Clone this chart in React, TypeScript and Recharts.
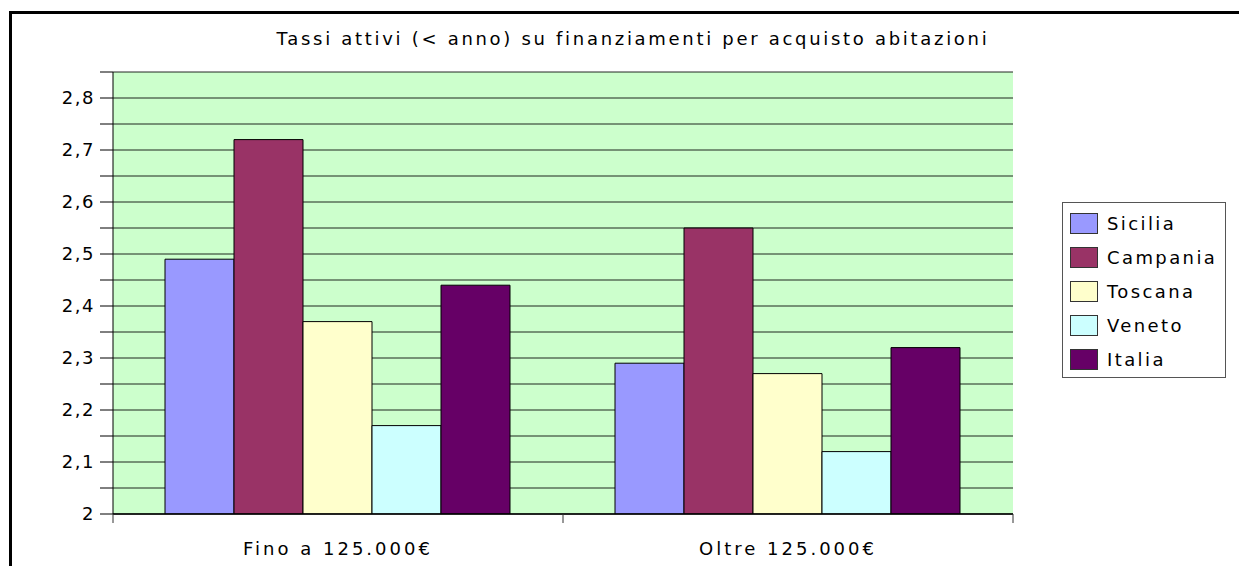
import React from 'react';
import { BarChart, Bar, XAxis, YAxis, CartesianGrid } from 'recharts';

const categories = ['Fino a 125.000€', 'Oltre 125.000€'];
const sicilia = [2.49, 2.29];
const campania = [2.72, 2.55];
const toscana = [2.37, 2.27];
const veneto = [2.17, 2.12];
const italia = [2.44, 2.32];
const yTicks = [2, 2.05, 2.1, 2.15, 2.2, 2.25, 2.3, 2.35, 2.4, 2.45, 2.5, 2.55, 2.6, 2.65, 2.7, 2.75, 2.8, 2.85];

const series = [
  { key: 'Sicilia', values: sicilia, color: '#9999FF' },
  { key: 'Campania', values: campania, color: '#993366' },
  { key: 'Toscana', values: toscana, color: '#FFFFCC' },
  { key: 'Veneto', values: veneto, color: '#CCFFFF' },
  { key: 'Italia', values: italia, color: '#660066' },
];

const data = categories.map((name, i) => {
  const row: any = { name };
  series.forEach(s => { row[s.key] = s.values[i]; });
  return row;
});

const FONT = "'Comic Sans MS', 'DejaVu Sans', sans-serif";
const X_MARGIN = 28;

const fmtY = (v: number) => {
  const r = Math.round(v * 100);
  if (r % 10 !== 0 || r > 280) return '';
  return (r / 100).toString().replace('.', ',');
};

// category label + tick marks on the category boundaries (Excel style)
const CatTick = (props: any) => {
  const { x, y, payload, index, visibleTicksCount } = props;
  const off = payload.offset || 0;
  const axisY = y - X_MARGIN;
  const isLast = index === visibleTicksCount - 1;
  return (
    <g>
      <line x1={x - off} x2={x - off} y1={axisY} y2={axisY + 9} stroke="#333" />
      {isLast && <line x1={x + off} x2={x + off} y1={axisY} y2={axisY + 9} stroke="#333" />}
      <text x={x} y={y} dy="0.71em" textAnchor="middle" fill="#000" fontSize={18} letterSpacing={3} fontFamily={FONT}>
        {payload.value}
      </text>
    </g>
  );
};

const LegendBox = () => (
  <div style={{
    position: 'absolute', left: 1062, top: 202,
    border: '1px solid #555', background: '#fff', width: 164, height: 176,
    boxSizing: 'border-box', padding: '3px 0 0 7px', fontFamily: FONT, fontSize: 18,
    letterSpacing: 2.4, color: '#000'
  }}>
    {series.map(s => (
      <div key={s.key} style={{ display: 'flex', alignItems: 'center', height: 34 }}>
        <div style={{ width: 26, height: 19, background: s.color, border: '1px solid #333', marginRight: 9 }} />
        <span>{s.key}</span>
      </div>
    ))}
  </div>
);

export default function App() {
  return (
    <div style={{ position: 'fixed', left: 0, top: 0, width: 1239, height: 566, overflow: 'hidden', background: '#fff' }}>
      <div style={{
        position: 'absolute', left: 9, top: 11, width: 1300, height: 700,
        borderTop: '3px solid #000', borderLeft: '3px solid #000'
      }} />
      <div style={{
        position: 'absolute', left: 0, width: 1266, top: 28, textAlign: 'center',
        fontFamily: FONT, fontSize: 18, letterSpacing: 2.7, color: '#000'
      }}>
        Tassi attivi (&lt; anno) su finanziamenti per acquisto abitazioni
      </div>
      <div style={{ position: 'absolute', left: 0, top: 0 }}>
        <BarChart
          width={1239}
          height={566}
          data={data}
          margin={{ top: 72, right: 226, bottom: 0, left: 0 }}
          barCategoryGap={52}
          barGap={0}
          style={{ fontFamily: FONT }}
        >
          <CartesianGrid vertical={false} fill="#CCFFCC" fillOpacity={1} stroke="#000" strokeOpacity={0.85} />
          <XAxis
            dataKey="name"
            height={52}
            tickLine={false}
            tickSize={0}
            tickMargin={X_MARGIN}
            axisLine={{ stroke: '#000', strokeWidth: 1.5 }}
            tick={<CatTick />}
            interval={0}
          />
          <YAxis
            width={113}
            domain={[2, 2.85]}
            ticks={yTicks}
            interval={0}
            tickFormatter={fmtY}
            tickSize={13}
            tickMargin={5}
            axisLine={{ stroke: '#000' }}
            tickLine={{ stroke: '#000' }}
            tick={{ fill: '#000', fontSize: 18, letterSpacing: 1.5 }}
            allowDataOverflow
          />
          <YAxis
            yAxisId="right"
            orientation="right"
            width={0}
            tick={false}
            tickLine={false}
            axisLine={{ stroke: '#808080' }}
          />
          {series.map(s => (
            <Bar key={s.key} dataKey={s.key} fill={s.color} stroke="#000" strokeWidth={1} isAnimationActive={false} />
          ))}
        </BarChart>
      </div>
      <LegendBox />
    </div>
  );
}
